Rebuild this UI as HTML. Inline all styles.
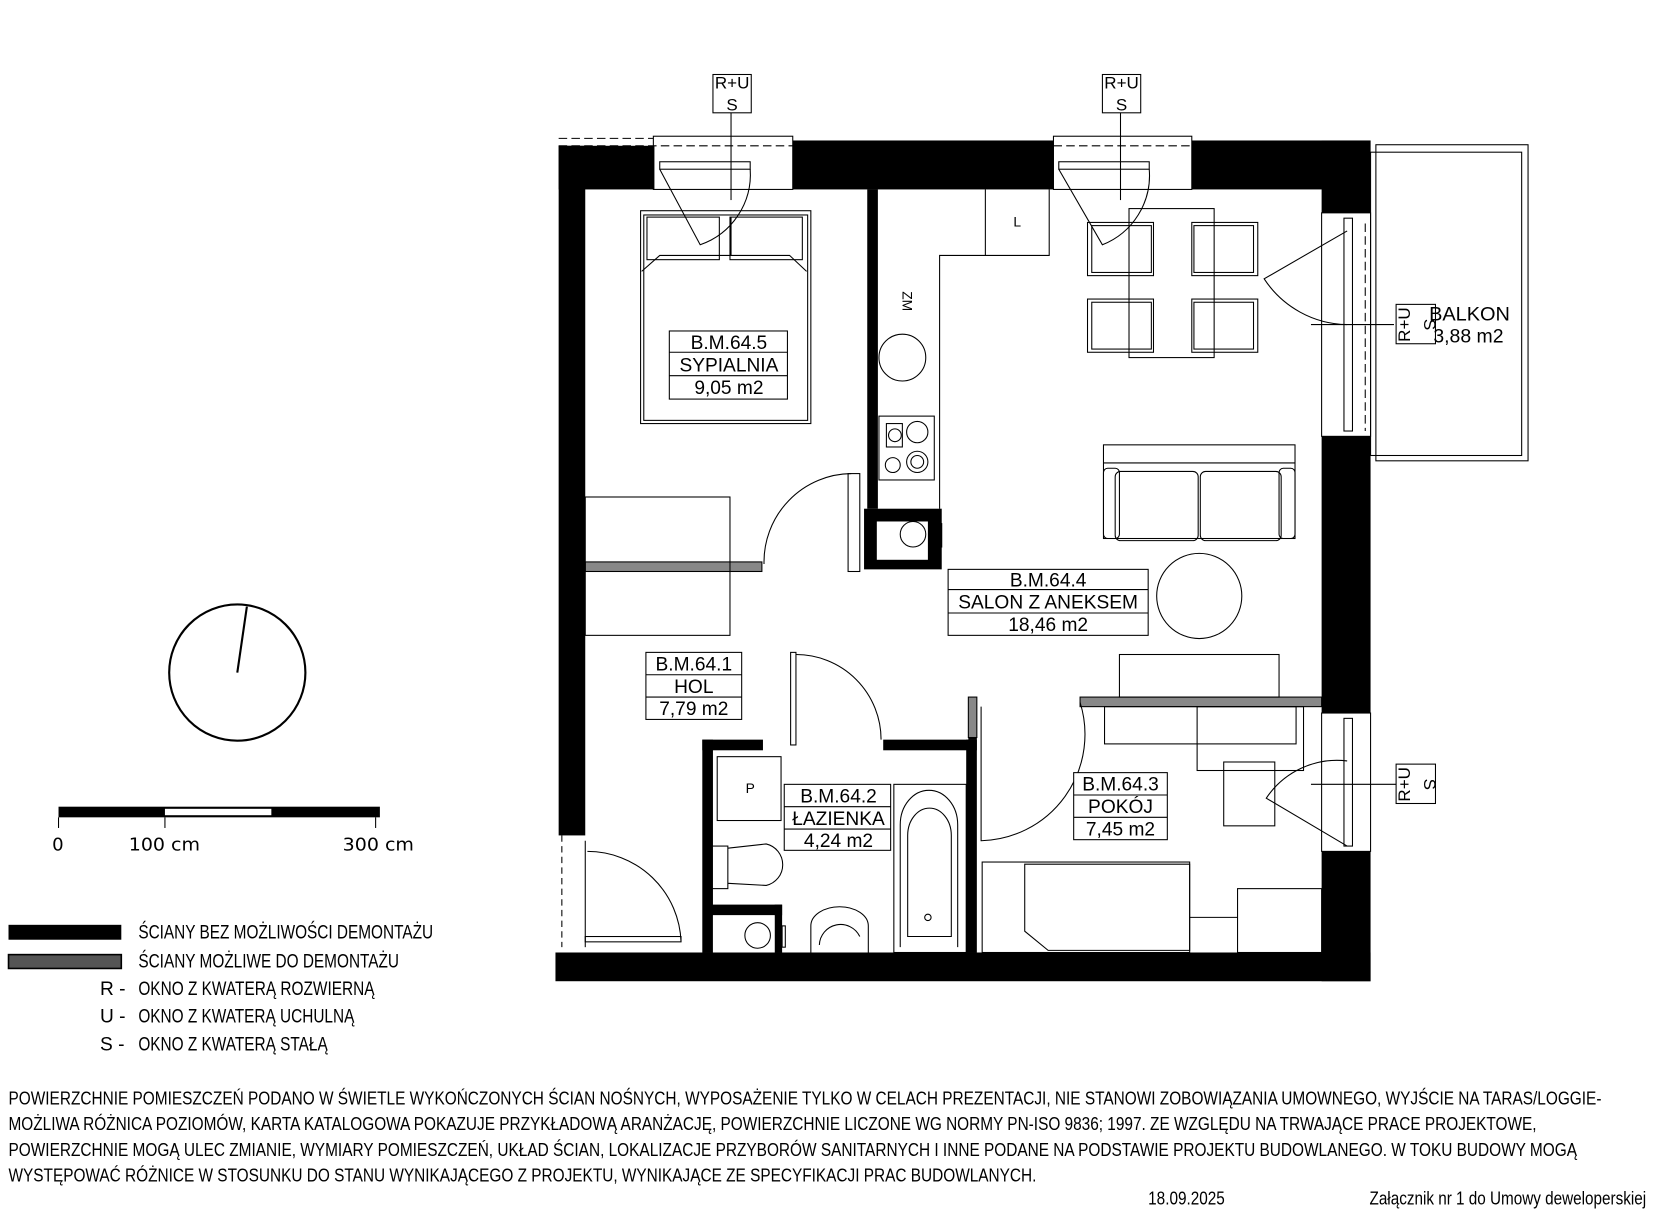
<!DOCTYPE html>
<html><head><meta charset="utf-8"><style>
html,body{margin:0;padding:0;background:#fff;width:1660px;height:1226px;overflow:hidden}
svg{display:block}
text{font-family:"Liberation Sans Narrow","Liberation Sans",sans-serif;fill:#000}
</style></head><body>
<svg width="1660" height="1226" viewBox="0 0 1560 1152" preserveAspectRatio="none" xmlns="http://www.w3.org/2000/svg">
<g fill="#000">
<rect x="525" y="137" width="90" height="41"/>
<rect x="745" y="132" width="245" height="46"/>
<rect x="1120" y="132" width="168" height="46"/>
<rect x="1242" y="132" width="46" height="68"/>
<rect x="525" y="137" width="25" height="648"/>
<rect x="1242" y="410" width="46" height="260"/>
<rect x="1242" y="800" width="46" height="122"/>
<rect x="522" y="895" width="766" height="27"/>
<rect x="815" y="178" width="10" height="300"/>
<rect x="812" y="478" width="73" height="57"/>
<rect x="660" y="695" width="10" height="200"/>
<rect x="660" y="695" width="57" height="10"/>
<rect x="830" y="695" width="88" height="10"/>
<rect x="908" y="695" width="10" height="200"/>
<rect x="668" y="850" width="67" height="10"/>
<rect x="728" y="850" width="7" height="45"/>
<rect x="910" y="655" width="8" height="40"/>
</g>
<g fill="#fff">
<rect x="824" y="490" width="48" height="36"/>
<rect x="670" y="860" width="58" height="35"/>
</g>
<rect x="910" y="655" width="8" height="38" fill="#888" stroke="#000" stroke-width="1"/>
<rect x="550" y="528" width="166" height="9" fill="#888" stroke="#000" stroke-width="1"/>
<rect x="1015" y="655" width="227" height="9" fill="#888" stroke="#000" stroke-width="1"/>
<g fill="none" stroke="#000" stroke-width="1">
<rect x="614" y="128" width="131" height="50"/>
<line x1="525" y1="130" x2="614" y2="130" stroke-dasharray="8,4"/>
<line x1="525" y1="137" x2="745" y2="137" stroke-dasharray="8,4"/>
<rect x="620" y="152" width="85" height="7"/>
<rect x="990" y="128" width="130" height="50"/>
<line x1="990" y1="137" x2="1120" y2="137" stroke-dasharray="8,4"/>
<rect x="995" y="152" width="85" height="7"/>
<path d="M620 159 L658 230 A70 70 0 0 0 705 159"/>
<path d="M995 159 L1036 230 A70 70 0 0 0 1080 159"/>
<line x1="687" y1="106" x2="687" y2="188"/>
<line x1="1053" y1="106" x2="1053" y2="188"/>
<rect x="670" y="70" width="36" height="36"/>
<rect x="1036" y="70" width="36" height="36"/>
<rect x="1242" y="200" width="46" height="210"/>
<rect x="1263" y="205" width="8" height="200"/>
<line x1="1283" y1="210" x2="1283" y2="405" stroke-dasharray="8,4"/>
<path d="M1266 217 L1188 262 A95 95 0 0 0 1266 305"/>
<rect x="1242" y="670" width="46" height="130"/>
<rect x="1263" y="675" width="8" height="120"/>
<path d="M1266 715 A80 80 0 0 0 1190 750 L1266 795"/>
<line x1="1232" y1="305" x2="1310" y2="305"/>
<line x1="1232" y1="737" x2="1312" y2="737"/>
<rect x="1312" y="286" width="37" height="37"/>
<rect x="1312" y="718" width="37" height="37"/>
<rect x="1288" y="143" width="142" height="285"/>
<rect x="1293" y="136" width="143" height="297"/>
<rect x="602" y="198" width="160" height="200"/>
<rect x="605" y="202" width="154" height="193"/>
<rect x="608" y="204" width="68" height="40"/>
<rect x="686" y="204" width="68" height="40"/>
<path d="M603 255 L620 240 L742 240 L758 255"/>
<line x1="687" y1="204" x2="687" y2="240"/>
<rect x="550" y="467" width="136" height="130"/>
<path d="M718 530 A83 83 0 0 1 800 445"/>
<rect x="797" y="445" width="11" height="92"/>
<path d="M883 478 L883 240 L986 240 L986 178"/>
<line x1="926" y1="178" x2="926" y2="240"/>
<circle cx="848" cy="336" r="22"/>
<rect x="826" y="391" width="52" height="60"/>
<circle cx="841" cy="409" r="6"/><circle cx="862" cy="406" r="10"/>
<circle cx="839" cy="437" r="7"/><circle cx="862" cy="434" r="10"/><circle cx="862" cy="434" r="6"/>
<rect x="833" y="398" width="15" height="22"/>
<circle cx="858" cy="502" r="12"/>
<rect x="877" y="492" width="8" height="22"/>
<rect x="1061" y="196" width="80" height="140"/>
<rect x="1022" y="209" width="62" height="50"/><rect x="1026" y="212" width="56" height="44"/>
<rect x="1120" y="209" width="62" height="50"/><rect x="1122" y="212" width="56" height="44"/>
<rect x="1022" y="281" width="62" height="50"/><rect x="1026" y="284" width="56" height="44"/>
<rect x="1120" y="281" width="62" height="50"/><rect x="1122" y="284" width="56" height="44"/>
<rect x="1037" y="418" width="180" height="88"/>
<line x1="1037" y1="435" x2="1217" y2="435"/>
<rect x="1048" y="443" width="78" height="65" rx="5"/>
<rect x="1128" y="443" width="76" height="65" rx="5"/>
<rect x="1037" y="440" width="15" height="66" rx="4"/>
<rect x="1202" y="440" width="15" height="66" rx="4"/>
<circle cx="1127" cy="560" r="40"/>
<rect x="1052" y="615" width="150" height="40"/>
<rect x="1038" y="664" width="180" height="35"/>
<rect x="1125" y="664" width="100" height="60"/>
<rect x="1150" y="716" width="48" height="60"/>
<path d="M922 664 L922 790 A100 100 0 0 0 1015 660"/>
<rect x="923" y="810" width="195" height="85"/>
<path d="M963 812 L1118 812 L1118 893 L985 893 L963 875 Z"/>
<rect x="1163" y="835" width="79" height="60"/>
<line x1="1118" y1="862" x2="1163" y2="862"/>
<rect x="743" y="613" width="5" height="87"/>
<path d="M748 615 A80 80 0 0 1 828 695"/>
<rect x="674" y="711" width="60" height="60"/>
<rect x="669" y="795" width="15" height="40"/>
<path d="M684 797 L720 793 A20 20 0 0 1 720 832 L684 830"/>
<circle cx="712" cy="879" r="12"/>
<rect x="735" y="870" width="3" height="20"/>
<path d="M762 895 L762 870 A27 18 0 0 1 816 870 L816 895"/>
<path d="M770 888 A20 20 0 0 1 808 880"/>
<rect x="840" y="737" width="68" height="158"/>
<path d="M846 890 L846 775 A25 30 0 0 1 900 775 L900 890"/>
<path d="M853 880 L853 785 A20 25 0 0 1 894 785 L894 880 Z"/>
<circle cx="872" cy="862" r="3"/>
<line x1="528" y1="785" x2="528" y2="890" stroke-dasharray="6,4"/>
<line x1="550" y1="790" x2="550" y2="890"/>
<path d="M552 800 A88 88 0 0 1 640 885"/>
<rect x="550" y="880" width="90" height="5"/>
<circle cx="223" cy="632" r="64" stroke-width="2"/>
<line x1="223" y1="632" x2="232" y2="570" stroke-width="2"/>
</g>
<g fill="#fff" stroke="#000" stroke-width="1">
<rect x="629" y="311" width="111" height="64"/>
<rect x="891" y="535" width="188" height="62"/>
<rect x="607" y="613" width="90" height="63"/>
<rect x="737" y="737" width="100" height="62"/>
<rect x="1009" y="726" width="88" height="63"/>
</g>
<g stroke="#000" stroke-width="1">
<line x1="629" y1="331" x2="740" y2="331"/><line x1="629" y1="353" x2="740" y2="353"/>
<line x1="891" y1="554" x2="1079" y2="554"/><line x1="891" y1="576" x2="1079" y2="576"/>
<line x1="607" y1="634" x2="697" y2="634"/><line x1="607" y1="655" x2="697" y2="655"/>
<line x1="737" y1="758" x2="837" y2="758"/><line x1="737" y1="779" x2="837" y2="779"/>
<line x1="1009" y1="747" x2="1097" y2="747"/><line x1="1009" y1="768" x2="1097" y2="768"/>
</g>
<g font-size="18" text-anchor="middle">
<text x="685" y="328">B.M.64.5</text><text x="685" y="349">SYPIALNIA</text><text x="685" y="370">9,05 m2</text>
<text x="985" y="551">B.M.64.4</text><text x="985" y="572">SALON Z ANEKSEM</text><text x="985" y="593">18,46 m2</text>
<text x="652" y="630">B.M.64.1</text><text x="652" y="651">HOL</text><text x="652" y="672">7,79 m2</text>
<text x="788" y="754">B.M.64.2</text><text x="788" y="775">ŁAZIENKA</text><text x="788" y="796">4,24 m2</text>
<text x="1053" y="743">B.M.64.3</text><text x="1053" y="764">POKÓJ</text><text x="1053" y="785">7,45 m2</text>
</g>
<g font-size="18">
<text x="1343" y="301" textLength="76" lengthAdjust="spacingAndGlyphs">BALKON</text>
<text x="1347" y="322" textLength="66" lengthAdjust="spacingAndGlyphs">3,88 m2</text>
</g>
<g font-size="16" text-anchor="middle">
<text x="688" y="83">R+U</text><text x="688" y="104">S</text>
<text x="1054" y="83">R+U</text><text x="1054" y="104">S</text>
<text x="956" y="213" font-size="13">L</text>
<text x="705" y="745" font-size="13">P</text>
<text transform="translate(848,283) rotate(90)" font-size="13">ZM</text>
<text transform="translate(1325,305) rotate(-90)">R+U</text>
<text transform="translate(1338,305) rotate(90)">S</text>
<text transform="translate(1325,737) rotate(-90)">R+U</text>
<text transform="translate(1338,737) rotate(90)">S</text>
</g>
<rect x="55" y="758" width="302" height="10" fill="#000"/>
<rect x="155" y="760" width="100" height="6" fill="#fff"/>
<g stroke="#000"><line x1="55" y1="768" x2="55" y2="778"/><line x1="155" y1="768" x2="155" y2="778"/><line x1="353" y1="768" x2="353" y2="778"/></g>
<g font-size="18" font-weight="bold">
<text x="49" y="799" style="font-family:'DejaVu Sans','Liberation Sans',sans-serif;font-weight:normal" font-size="17">0</text>
<text x="121" y="799" style="font-family:'DejaVu Sans','Liberation Sans',sans-serif;font-weight:normal" font-size="17" textLength="67" lengthAdjust="spacingAndGlyphs">100 cm</text>
<text x="322" y="799" style="font-family:'DejaVu Sans','Liberation Sans',sans-serif;font-weight:normal" font-size="17" textLength="67" lengthAdjust="spacingAndGlyphs">300 cm</text>
</g>
<rect x="8" y="869" width="106" height="14" fill="#000"/>
<rect x="8" y="897" width="106" height="13" fill="#555" stroke="#000" stroke-width="1.5"/>
<g font-size="18">
<text x="130" y="882" textLength="277" lengthAdjust="spacingAndGlyphs">ŚCIANY BEZ MOŻLIWOŚCI DEMONTAŻU</text>
<text x="130" y="909" textLength="245" lengthAdjust="spacingAndGlyphs">ŚCIANY MOŻLIWE DO DEMONTAŻU</text>
<text x="94" y="935">R -</text><text x="130" y="935" textLength="222" lengthAdjust="spacingAndGlyphs">OKNO Z KWATERĄ ROZWIERNĄ</text>
<text x="94" y="961">U -</text><text x="130" y="961" textLength="203" lengthAdjust="spacingAndGlyphs">OKNO Z KWATERĄ UCHULNĄ</text>
<text x="94" y="987">S -</text><text x="130" y="987" textLength="178" lengthAdjust="spacingAndGlyphs">OKNO Z KWATERĄ STAŁĄ</text>
</g>
<g font-size="17">
<text x="8" y="1038" textLength="1497" lengthAdjust="spacingAndGlyphs">POWIERZCHNIE POMIESZCZEŃ PODANO W ŚWIETLE WYKOŃCZONYCH ŚCIAN NOŚNYCH, WYPOSAŻENIE TYLKO W CELACH PREZENTACJI, NIE STANOWI ZOBOWIĄZANIA UMOWNEGO, WYJŚCIE NA TARAS/LOGGIE-</text>
<text x="8" y="1062" textLength="1436" lengthAdjust="spacingAndGlyphs">MOŻLIWA RÓŻNICA POZIOMÓW, KARTA KATALOGOWA POKAZUJE PRZYKŁADOWĄ ARANŻACJĘ, POWIERZCHNIE LICZONE WG NORMY PN-ISO 9836; 1997. ZE WZGLĘDU NA TRWAJĄCE PRACE PROJEKTOWE,</text>
<text x="8" y="1086" textLength="1474" lengthAdjust="spacingAndGlyphs">POWIERZCHNIE MOGĄ ULEC ZMIANIE, WYMIARY POMIESZCZEŃ, UKŁAD ŚCIAN, LOKALIZACJE PRZYBORÓW SANITARNYCH I INNE PODANE NA PODSTAWIE PROJEKTU BUDOWLANEGO. W TOKU BUDOWY MOGĄ</text>
<text x="8" y="1110" textLength="966" lengthAdjust="spacingAndGlyphs">WYSTĘPOWAĆ RÓŻNICE W STOSUNKU DO STANU WYNIKAJĄCEGO Z PROJEKTU, WYNIKAJĄCE ZE SPECYFIKACJI PRAC BUDOWLANYCH.</text>
<text x="1079" y="1132" textLength="72" lengthAdjust="spacingAndGlyphs">18.09.2025</text>
<text x="1287" y="1132" textLength="260" lengthAdjust="spacingAndGlyphs">Załącznik nr 1 do Umowy deweloperskiej</text>
</g>
</svg>
</body></html>
